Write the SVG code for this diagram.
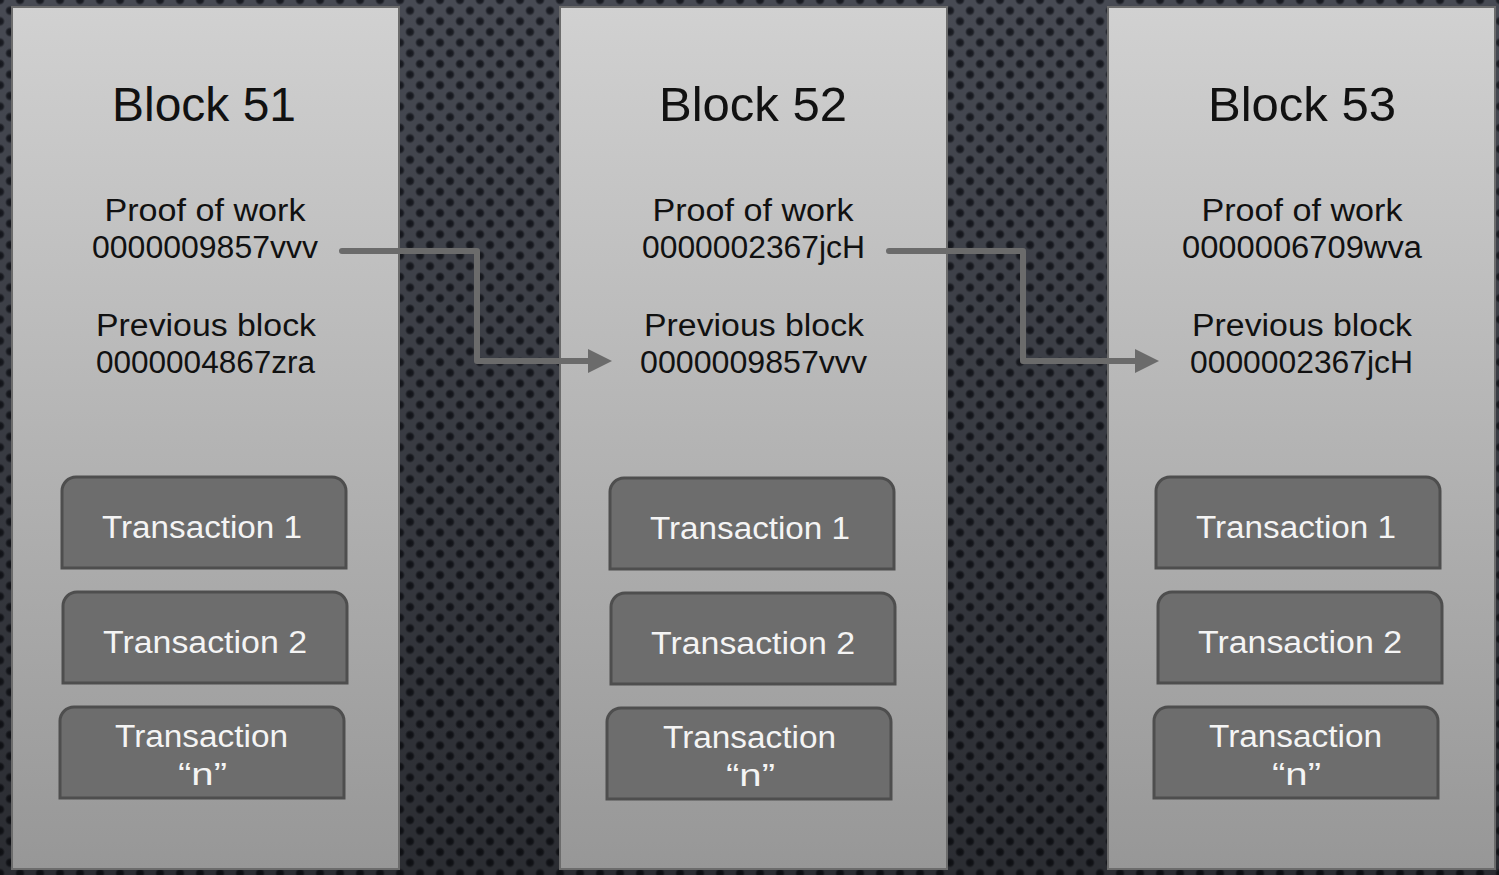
<svg xmlns="http://www.w3.org/2000/svg" xmlns:xlink="http://www.w3.org/1999/xlink" width="1499" height="875" viewBox="0 0 1499 875">
  <style>
    .block { stroke: #6c6c6c; stroke-width: 2; fill: url(#blockFill); }
    .tx { fill: #6d6d6d; stroke: #4e4e4e; stroke-width: 3; }
    .title { font-family: "Liberation Sans", Arial, sans-serif; font-size: 48px; fill: #111; text-anchor: middle; }
    .info { font-family: "Liberation Sans", Arial, sans-serif; font-size: 31px; fill: #111; text-anchor: middle; }
    .txt { font-family: "Liberation Sans", Arial, sans-serif; font-size: 31px; fill: #f4f4f4; text-anchor: middle; }
    .link { fill: none; stroke: #6b6b6b; stroke-width: 6; stroke-linecap: round; stroke-linejoin: round; }
    .head { fill: #6b6b6b; }
  </style>
  <defs>
    <!-- perforated metal backdrop -->
    <radialGradient id="hole" cx="0.5" cy="0.5" r="0.5">
      <stop offset="0" stop-color="#15171d"/>
      <stop offset="0.55" stop-color="#1d1f26"/>
      <stop offset="0.8" stop-color="#3a3d45"/>
      <stop offset="1" stop-color="#4b4e57" stop-opacity="0"/>
    </radialGradient>
    <pattern id="mesh" width="20" height="21.3" patternUnits="userSpaceOnUse">
      <rect width="20" height="21.3" fill="#474a53"/>
      <circle cx="0" cy="0" r="5.5" fill="url(#hole)"/>
      <circle cx="20" cy="0" r="5.5" fill="url(#hole)"/>
      <circle cx="0" cy="21.3" r="5.5" fill="url(#hole)"/>
      <circle cx="20" cy="21.3" r="5.5" fill="url(#hole)"/>
      <circle cx="10" cy="10.65" r="5.5" fill="url(#hole)"/>
    </pattern>
    <linearGradient id="shade" x1="0" y1="0" x2="0" y2="1">
      <stop offset="0" stop-color="#000" stop-opacity="0"/>
      <stop offset="1" stop-color="#000" stop-opacity="0.4"/>
    </linearGradient>
    <linearGradient id="blockFill" gradientUnits="userSpaceOnUse" x1="0" y1="7" x2="0" y2="869">
      <stop offset="0" stop-color="#d1d1d1"/>
      <stop offset="1" stop-color="#979797"/>
    </linearGradient>
    <!-- transaction card: rounded top corners, square bottom -->
    <path id="txbox" class="tx" d="M0,91 V14 A14,14 0 0 1 14,0 H270 A14,14 0 0 1 284,14 V91 Z"/>
  </defs>

  <rect width="1499" height="875" fill="url(#mesh)"/>
  <rect width="1499" height="875" fill="url(#shade)"/>

  <g id="block51">
    <rect class="block" x="12" y="7" width="387" height="862"/>
    <text class="title" x="204" y="121" textLength="184" lengthAdjust="spacingAndGlyphs">Block 51</text>
    <text class="info" x="205" y="221" textLength="201" lengthAdjust="spacingAndGlyphs">Proof of work</text>
    <text class="info" x="205" y="258" textLength="226" lengthAdjust="spacingAndGlyphs">0000009857vvv</text>
    <text class="info" x="206" y="336" textLength="220" lengthAdjust="spacingAndGlyphs">Previous block</text>
    <text class="info" x="205.5" y="373" textLength="219" lengthAdjust="spacingAndGlyphs">0000004867zra</text>
    <g id="block51-tx1">
      <use xlink:href="#txbox" x="62" y="477"/>
      <text class="txt" x="202" y="538" textLength="200" lengthAdjust="spacingAndGlyphs">Transaction 1</text>
    </g>
    <g id="block51-tx2">
      <use xlink:href="#txbox" x="63" y="592"/>
      <text class="txt" x="205" y="653" textLength="204" lengthAdjust="spacingAndGlyphs">Transaction 2</text>
    </g>
    <g id="block51-txn">
      <use xlink:href="#txbox" x="60" y="707"/>
      <text class="txt" x="201.5" y="747" textLength="173" lengthAdjust="spacingAndGlyphs">Transaction</text>
      <text class="txt" x="202.5" y="785" textLength="49" lengthAdjust="spacingAndGlyphs">“n”</text>
    </g>
  </g>

  <g id="block52">
    <rect class="block" x="560" y="7" width="387" height="862"/>
    <text class="title" x="753" y="121" textLength="188" lengthAdjust="spacingAndGlyphs">Block 52</text>
    <text class="info" x="753" y="221" textLength="201" lengthAdjust="spacingAndGlyphs">Proof of work</text>
    <text class="info" x="753.5" y="258" textLength="223" lengthAdjust="spacingAndGlyphs">0000002367jcH</text>
    <text class="info" x="754" y="336" textLength="220" lengthAdjust="spacingAndGlyphs">Previous block</text>
    <text class="info" x="753.5" y="373" textLength="227" lengthAdjust="spacingAndGlyphs">0000009857vvv</text>
    <g id="block52-tx1">
      <use xlink:href="#txbox" x="610" y="478"/>
      <text class="txt" x="750" y="539" textLength="200" lengthAdjust="spacingAndGlyphs">Transaction 1</text>
    </g>
    <g id="block52-tx2">
      <use xlink:href="#txbox" x="611" y="593"/>
      <text class="txt" x="753" y="654" textLength="204" lengthAdjust="spacingAndGlyphs">Transaction 2</text>
    </g>
    <g id="block52-txn">
      <use xlink:href="#txbox" x="607" y="708"/>
      <text class="txt" x="749.5" y="748" textLength="173" lengthAdjust="spacingAndGlyphs">Transaction</text>
      <text class="txt" x="750.5" y="786" textLength="49" lengthAdjust="spacingAndGlyphs">“n”</text>
    </g>
  </g>

  <g id="block53">
    <rect class="block" x="1108" y="7" width="387" height="862"/>
    <text class="title" x="1302" y="121" textLength="188" lengthAdjust="spacingAndGlyphs">Block 53</text>
    <text class="info" x="1302" y="221" textLength="201" lengthAdjust="spacingAndGlyphs">Proof of work</text>
    <text class="info" x="1302" y="258" textLength="240" lengthAdjust="spacingAndGlyphs">0000006709wva</text>
    <text class="info" x="1302" y="336" textLength="220" lengthAdjust="spacingAndGlyphs">Previous block</text>
    <text class="info" x="1301.5" y="373" textLength="223" lengthAdjust="spacingAndGlyphs">0000002367jcH</text>
    <g id="block53-tx1">
      <use xlink:href="#txbox" x="1156" y="477"/>
      <text class="txt" x="1296" y="538" textLength="200" lengthAdjust="spacingAndGlyphs">Transaction 1</text>
    </g>
    <g id="block53-tx2">
      <use xlink:href="#txbox" x="1158" y="592"/>
      <text class="txt" x="1300" y="653" textLength="204" lengthAdjust="spacingAndGlyphs">Transaction 2</text>
    </g>
    <g id="block53-txn">
      <use xlink:href="#txbox" x="1154" y="707"/>
      <text class="txt" x="1295.5" y="747" textLength="173" lengthAdjust="spacingAndGlyphs">Transaction</text>
      <text class="txt" x="1296.5" y="785" textLength="49" lengthAdjust="spacingAndGlyphs">“n”</text>
    </g>
  </g>

  <g id="connectors">
    <path class="link" d="M342,251 H477 V361 H592"/>
    <polygon class="head" points="588,349 612,361 588,373"/>
    <path class="link" d="M889,251 H1023 V361 H1138"/>
    <polygon class="head" points="1135,349 1159,361 1135,373"/>
  </g>
</svg>
